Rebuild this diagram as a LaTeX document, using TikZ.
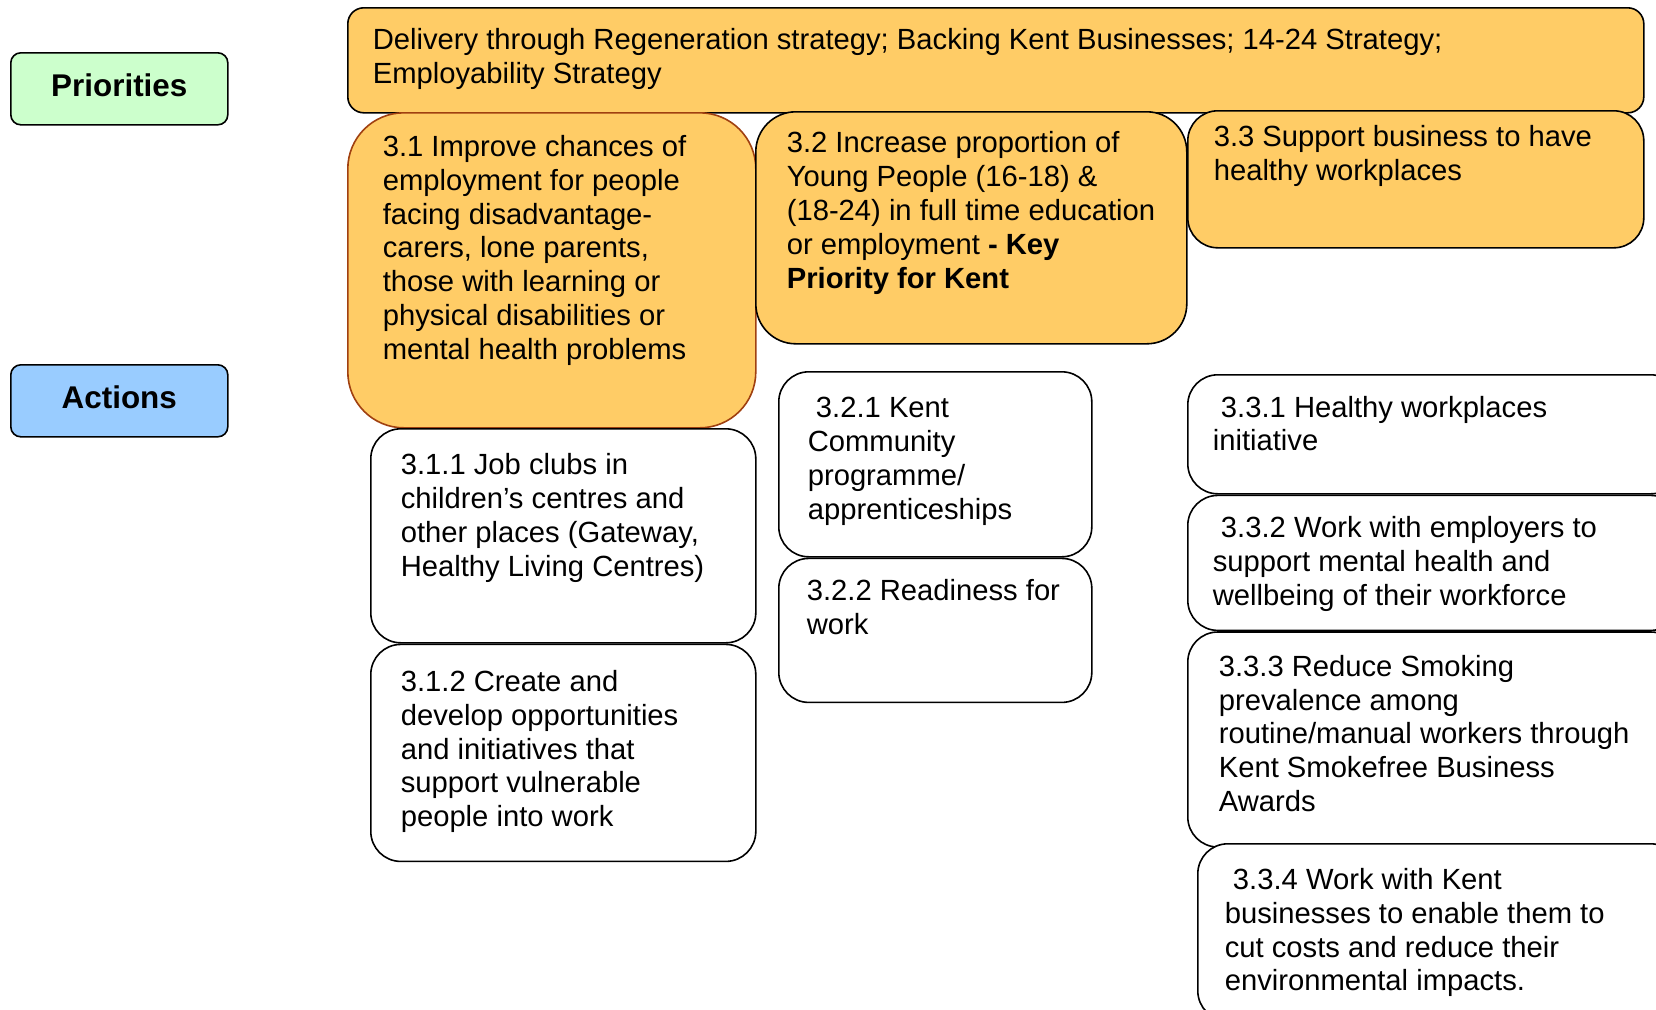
\documentclass[tikz,border=0pt]{standalone}
\usepackage{fontspec}
\setmainfont{Liberation Sans}
\usetikzlibrary{positioning}

\definecolor{prioorange}{HTML}{FFCC66}
\definecolor{priogreen}{HTML}{CCFFCC}
\definecolor{actblue}{HTML}{99CCFF}
\definecolor{rimbrown}{HTML}{A04010}

\newdimen\unitpx \unitpx=0.5pt
% box text: width, height, left pad, top pad, text
\newcommand\boxtext[5]{\parbox[t][#2\unitpx][t]{#1\unitpx}{\vspace*{#4\unitpx}\raggedright\leftskip=#3\unitpx\relax\strut#5}}

\begin{document}
\begin{tikzpicture}
  [x=0.5pt,y=-0.5pt,
  every node/.style={font=\fontsize{14.6}{16.9}\selectfont},
  sidelabel/.style={draw, line width=0.8pt, rounded corners=5pt, inner sep=0pt, anchor=north west,
    minimum width=108.5pt, minimum height=36pt, text depth=4pt, font=\fontsize{15.7}{18}\selectfont\bfseries},
  prio/.style={draw, line width=0.8pt, fill=prioorange, inner sep=0pt, anchor=north west},
  act/.style={draw, line width=0.8pt, fill=white, inner sep=0pt, anchor=north west, rounded corners=15pt}]
  \useasboundingbox (0,0) rectangle (1656,1009);
  \clip (0,0) rectangle (1656,1009);
  \node (prio) [sidelabel, fill=priogreen] at (10,52) {Priorities};
  \node (actn) [sidelabel, fill=actblue] at (10,364) {Actions};
  \node (deliv) [prio, rounded corners=8pt] at (347,7) {\boxtext{1296}{105}{25}{18}{Delivery through Regeneration strategy; Backing Kent Businesses; 14-24 Strategy;\\Employability Strategy}};
  \node (p31) [prio, rounded corners=28pt, draw=rimbrown] at (347,112) {\boxtext{408}{315}{35}{20}{3.1 Improve chances of\\employment for people\\facing disadvantage-\\carers, lone parents,\\those with learning or\\physical disabilities or\\mental health problems}};
  \node (p32) [prio, rounded corners=20pt] at (755,111) {\boxtext{431}{232}{31}{17.5}{3.2 Increase proportion of\\Young People (16-18) \&\\(18-24) in full time education\\or employment \textbf{- Key}\\\textbf{Priority for Kent}}};
  \node (p33) [prio, rounded corners=15pt] at (1187,110) {\boxtext{456}{137}{26}{12.5}{3.3 Support business to have\\healthy workplaces}};
  \node (a311) [act] at (370,428) {\boxtext{385}{214}{30}{22.5}{3.1.1 Job clubs in\\children's centres and\\other places (Gateway,\\Healthy Living Centres)}};
  \node (a312) [act, below=0pt of a311] {\boxtext{385}{217}{30}{23.5}{3.1.2 Create and\\develop opportunities\\and initiatives that\\support vulnerable\\people into work}};
  \node (a321) [act] at (778,371) {\boxtext{313}{185}{29}{22.5}{\hspace*{0.28em}3.2.1 Kent\\Community\\programme/\\apprenticeships}};
  \node (a322) [act, below=0pt of a321] {\boxtext{313}{144}{28}{18.6}{3.2.2 Readiness for\\work}};
  \node (a331) [act] at (1187,374) {\boxtext{493}{119}{25}{18.6}{\hspace*{0.28em}3.3.1 Healthy workplaces\\initiative}};
  \node (a332) [act, below=0pt of a331] {\boxtext{493}{135}{25}{18.6}{\hspace*{0.28em}3.3.2 Work with employers to\\support mental health and\\wellbeing of their workforce}};
  \node (a333) [act, below=0pt of a332] {\boxtext{493}{215}{31}{20.7}{3.3.3 Reduce Smoking\\prevalence among\\routine/manual workers through\\Kent Smokefree Business\\Awards}};
  \node (a334) [act] at (1197,843) {\boxtext{483}{177}{27}{22}{\hspace*{0.28em}3.3.4 Work with Kent\\businesses to enable them to\\cut costs and reduce their\\environmental impacts.}};
\end{tikzpicture}
\end{document}
